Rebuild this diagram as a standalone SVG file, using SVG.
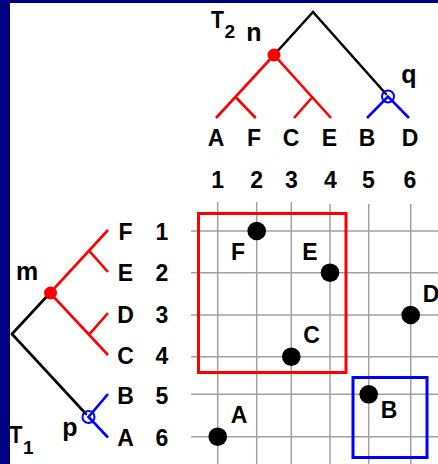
<svg xmlns="http://www.w3.org/2000/svg" width="438" height="464" viewBox="0 0 438 464">
<style>
text{font-family:"Liberation Sans",Arial,sans-serif;font-weight:bold;fill:#000}
.lbl{font-size:23px;text-anchor:middle}
.nd{font-size:25px;text-anchor:middle}
.grid line{stroke:#a0a0a0;stroke-width:1.5}
.blk{stroke:#000;stroke-width:2.6;fill:none;stroke-linecap:round}
.red{stroke:#ff0000;stroke-width:2.6;fill:none}
.blu{stroke:#0000ff;stroke-width:2.6;fill:none}
</style>
<rect x="0" y="0" width="438" height="464" fill="#fff"/>
<rect x="0" y="0" width="438" height="3" fill="#000080"/>
<rect x="0" y="0" width="10" height="464" fill="#000080"/>

<g id="grid" class="grid">
<line x1="217.7" y1="202" x2="217.7" y2="464"/>
<line x1="256.7" y1="202" x2="256.7" y2="464"/>
<line x1="291.3" y1="202" x2="291.3" y2="464"/>
<line x1="330" y1="204" x2="330" y2="464"/>
<line x1="368.7" y1="204" x2="368.7" y2="464"/>
<line x1="410.7" y1="204" x2="410.7" y2="464"/>
<line x1="191" y1="231" x2="438" y2="231"/>
<line x1="191" y1="272.7" x2="438" y2="272.7"/>
<line x1="191" y1="315" x2="438" y2="315"/>
<line x1="191" y1="356.7" x2="438" y2="356.7"/>
<line x1="191" y1="394.3" x2="438" y2="394.3"/>
<line x1="191" y1="436.7" x2="438" y2="436.7"/>
</g>

<g id="boxes">
<rect x="198.5" y="213.5" width="147.5" height="159" fill="none" stroke="#ff0000" stroke-width="3"/>
<rect x="353" y="377.5" width="74" height="80" fill="none" stroke="#0000ff" stroke-width="3"/>
</g>

<g id="connectors">
<line class="blk" x1="274" y1="55" x2="313" y2="12"/>
<line class="blk" x1="313" y1="12" x2="386" y2="94"/>
<path class="red" d="M216,118 L274,55 L331,118 M235.5,97 L255.7,118 M312.5,97 L294,118"/>
<path class="blu" d="M367,118 L388,96.5 L409,118"/>
<line class="blk" x1="12" y1="334" x2="50" y2="293"/>
<line class="blk" x1="12" y1="334" x2="86" y2="414"/>
<path class="red" d="M108,230 L50,293 L108,355 M89,250.6 L108,272 M89,334.7 L108,313"/>
<path class="blu" d="M108,394 L88.5,417 L108,437.5"/>
</g>

<g id="node-n"><circle cx="274" cy="55" r="6.5" fill="#ff0000"/><text class="nd" x="254" y="41">n</text></g>
<g id="node-q"><circle cx="388" cy="96.5" r="6" fill="none" stroke="#0000ff" stroke-width="2"/><text class="nd" x="409" y="83">q</text></g>
<g id="node-m"><circle cx="50.5" cy="293" r="6.5" fill="#ff0000"/><text class="nd" x="27" y="280">m</text></g>
<g id="node-p"><circle cx="88.5" cy="417" r="6" fill="none" stroke="#0000ff" stroke-width="2"/><text class="nd" x="70" y="436">p</text></g>

<g id="title-T2"><text x="211" y="28" font-size="24" textLength="13" lengthAdjust="spacingAndGlyphs">T</text><text x="224.5" y="38" font-size="19">2</text></g>
<g id="title-T1"><text x="9.5" y="443" font-size="24" textLength="13" lengthAdjust="spacingAndGlyphs">T</text><text x="23" y="454" font-size="19">1</text></g>

<g id="top-leaves">
<text class="lbl" x="216" y="146">A</text>
<text class="lbl" x="254" y="146">F</text>
<text class="lbl" x="291" y="146">C</text>
<text class="lbl" x="329.5" y="146">E</text>
<text class="lbl" x="367" y="146">B</text>
<text class="lbl" x="410" y="146">D</text>
<text class="lbl" x="217.7" y="188">1</text>
<text class="lbl" x="256.7" y="188">2</text>
<text class="lbl" x="291.3" y="188">3</text>
<text class="lbl" x="330.5" y="188">4</text>
<text class="lbl" x="368.5" y="188">5</text>
<text class="lbl" x="410" y="188">6</text>
</g>

<g id="left-leaves">
<text class="lbl" x="125.5" y="239.5">F</text>
<text class="lbl" x="125.5" y="281">E</text>
<text class="lbl" x="125.5" y="322.5">D</text>
<text class="lbl" x="125.5" y="364">C</text>
<text class="lbl" x="125.5" y="404">B</text>
<text class="lbl" x="125.5" y="445.5">A</text>
<text class="lbl" x="162" y="239.5">1</text>
<text class="lbl" x="162" y="281">2</text>
<text class="lbl" x="162" y="322.5">3</text>
<text class="lbl" x="162" y="364">4</text>
<text class="lbl" x="162" y="404">5</text>
<text class="lbl" x="162" y="445.5">6</text>
</g>

<g id="point-F"><circle cx="256.7" cy="231" r="9.3"/><text class="lbl" x="238" y="260">F</text></g>
<g id="point-E"><circle cx="330" cy="272.7" r="9.3"/><text class="lbl" x="310" y="260">E</text></g>
<g id="point-D"><circle cx="410.7" cy="315" r="9.3"/><text class="lbl" x="431" y="302">D</text></g>
<g id="point-C"><circle cx="291.3" cy="356.7" r="9.3"/><text class="lbl" x="311.5" y="343">C</text></g>
<g id="point-B"><circle cx="368.7" cy="394.3" r="9.3"/><text class="lbl" x="389" y="418">B</text></g>
<g id="point-A"><circle cx="217.7" cy="436.7" r="9.3"/><text class="lbl" x="239" y="423">A</text></g>
</svg>
